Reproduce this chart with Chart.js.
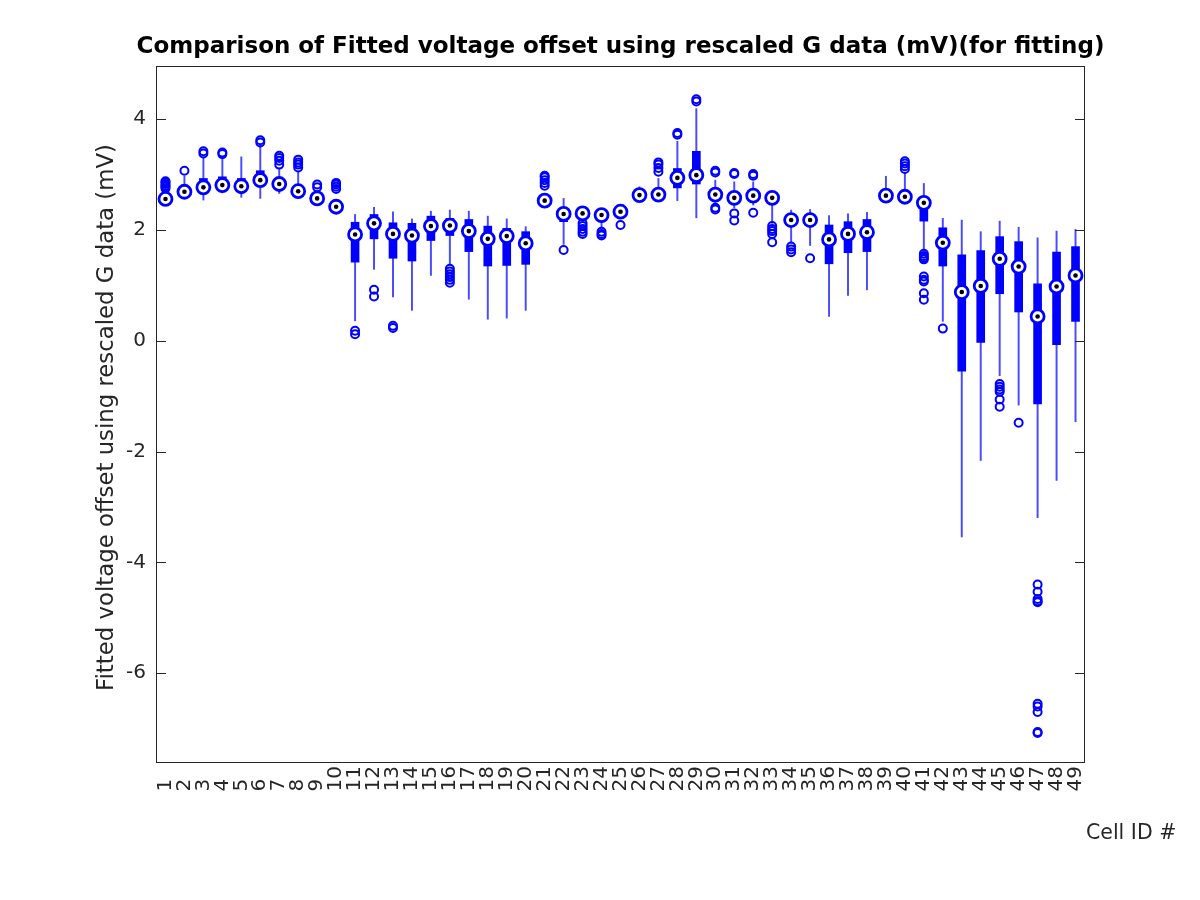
<!DOCTYPE html>
<html>
<head>
<meta charset="utf-8">
<script src="https://cdn.jsdelivr.net/npm/chart.js@4.4.1/dist/chart.umd.min.js"></script>
<style>
  html, body { margin: 0; padding: 0; background: #fff; }
  #wrap { width: 1200px; height: 900px; }
</style>
</head>
<body>
<div id="wrap"><canvas id="boxChart" width="1200" height="900"></canvas></div>
<script>
// Cell IDs on the x axis
const cells = Array.from({ length: 49 }, (_, i) => i + 1);
const yTicks = [-6, -4, -2, 0, 2, 4];

// Box statistics (mV)
const medians = [2.56, 2.69, 2.77, 2.81, 2.79, 2.90, 2.83, 2.70, 2.57, 2.42,
                 1.92, 2.12, 1.93, 1.90, 2.07, 2.08, 1.98, 1.84, 1.89, 1.76,
                 2.53, 2.29, 2.30, 2.27, 2.33, 2.63, 2.64, 2.94, 2.99, 2.64,
                 2.58, 2.62, 2.58, 2.18, 2.18, 1.83, 1.93, 1.96, 2.62, 2.60,
                 2.49, 1.77, 0.88, 0.99, 1.48, 1.34, 0.44, 0.98, 1.18];
const q1 = [2.53, 2.66, 2.72, 2.76, 2.72, 2.84, 2.78, 2.65, 2.54, 2.40,
            1.42, 1.84, 1.49, 1.44, 1.81, 1.90, 1.61, 1.35, 1.36, 1.38,
            2.50, 2.15, 2.26, 2.22, 2.30, 2.60, 2.61, 2.76, 2.83, 2.58,
            2.53, 2.57, 2.50, 2.13, 2.08, 1.39, 1.59, 1.61, 2.59, 2.57,
            2.16, 1.35, -0.55, -0.03, 0.85, 0.52, -1.14, -0.07, 0.35];
const q3 = [2.60, 2.74, 2.93, 2.96, 2.93, 3.07, 2.93, 2.80, 2.62, 2.47,
            2.14, 2.28, 2.13, 2.12, 2.25, 2.21, 2.19, 2.07, 2.03, 1.97,
            2.57, 2.33, 2.33, 2.30, 2.36, 2.67, 2.70, 3.11, 3.42, 2.70,
            2.63, 2.68, 2.62, 2.23, 2.22, 2.09, 2.15, 2.19, 2.66, 2.68,
            2.57, 2.04, 1.55, 1.63, 1.88, 1.79, 1.03, 1.60, 1.70];
const whiskerLo = [2.50, 2.63, 2.54, 2.67, 2.59, 2.57, 2.66, 2.57, 2.52, 2.38,
                   0.36, 1.29, 0.79, 0.55, 1.18, 1.37, 0.75, 0.39, 0.41, 0.55,
                   2.47, 1.74, 2.20, 2.05, 2.27, 2.57, 2.58, 2.53, 2.22, 2.45,
                   2.40, 2.45, 2.12, 1.76, 1.72, 0.44, 0.82, 0.92, 2.56, 2.54,
                   1.64, 0.35, -3.54, -2.16, -0.63, -1.16, -3.19, -2.52, -1.46];
const whiskerHi = [2.64, 2.97, 3.32, 3.30, 3.32, 3.53, 3.12, 3.05, 2.70, 2.50,
                   2.28, 2.41, 2.33, 2.20, 2.34, 2.36, 2.34, 2.25, 2.20, 2.06,
                   2.62, 2.57, 2.36, 2.33, 2.40, 2.78, 2.93, 3.60, 4.19, 2.90,
                   2.87, 2.87, 2.66, 2.36, 2.37, 2.26, 2.29, 2.32, 2.97, 3.03,
                   2.84, 2.21, 2.18, 1.97, 2.16, 2.05, 1.86, 1.98, 2.01];

// Outliers per cell
const outliers = {
    1: [2.75, 2.78, 2.80, 2.83, 2.86, 2.88],
    2: [3.07],
    3: [3.38, 3.42],
    4: [3.37, 3.40],
    6: [3.58, 3.62],
    7: [3.18, 3.25, 3.30, 3.34],
    8: [3.13, 3.18, 3.22, 3.27],
    9: [2.77, 2.82],
    10: [2.74, 2.78, 2.82, 2.85],
    11: [0.12, 0.18],
    12: [0.80, 0.92],
    13: [0.23, 0.27],
    16: [1.05, 1.10, 1.15, 1.20, 1.25, 1.30],
    21: [2.80, 2.85, 2.90, 2.95, 2.98],
    22: [1.64],
    23: [1.93, 1.97, 2.02, 2.07, 2.12],
    24: [1.90, 1.93, 1.97],
    25: [2.09],
    27: [3.05, 3.12, 3.18, 3.22],
    28: [3.72, 3.75],
    29: [4.32, 4.36],
    30: [2.37, 2.40, 3.04, 3.07],
    31: [2.17, 2.30, 3.01, 3.03],
    32: [2.31, 2.98, 3.01],
    33: [1.78, 1.93, 1.98, 2.02, 2.07],
    34: [1.60, 1.65, 1.70],
    35: [1.49],
    40: [3.10, 3.15, 3.20, 3.24],
    41: [0.74, 0.86, 1.07, 1.10, 1.16, 1.47, 1.50, 1.53, 1.57],
    42: [0.22],
    45: [-0.78, -0.83, -0.88, -0.92, -1.06, -1.19],
    46: [-1.48],
    47: [-4.40, -4.53, -4.66, -4.70, -4.72, -6.55, -6.60, -6.70, -7.06, -7.08]
};

const BLUE = '#0000ff';
const AXIS = '#262626';
const FONT = 'DejaVu Sans';

const outlierPoints = [];
Object.keys(outliers).forEach(function(k) {
    outliers[k].forEach(function(v) { outlierPoints.push({ x: Number(k), y: v }); });
});

// frame, inward ticks and the texts MATLAB puts around the axes
const matlabFrame = {
    id: 'matlabFrame',
    afterDraw(chart) {
        const { ctx, chartArea: a, scales } = chart;
        ctx.save();
        ctx.strokeStyle = AXIS;
        ctx.lineWidth = 1;
        ctx.strokeRect(a.left + 0.5, a.top + 0.5, a.right - a.left - 1, a.bottom - a.top - 1);
        yTicks.forEach(function(t) {
            const py = Math.round(scales.y.getPixelForValue(t)) + 0.5;
            ctx.beginPath();
            ctx.moveTo(a.left, py); ctx.lineTo(a.left + 10, py);
            ctx.moveTo(a.right, py); ctx.lineTo(a.right - 10, py);
            ctx.stroke();
        });
        ctx.fillStyle = '#000';
        ctx.font = 'bold 23px "' + FONT + '"';
        ctx.textAlign = 'center';
        ctx.textBaseline = 'middle';
        ctx.fillText('Comparison of Fitted voltage offset using rescaled G data (mV)(for fitting)', (a.left + a.right) / 2, 47);

        ctx.fillStyle = AXIS;
        ctx.font = '20.5px "' + FONT + '"';
        ctx.textAlign = 'left';
        ctx.fillText('Cell ID #', 1086, 834);

        ctx.font = '22.8px "' + FONT + '"';
        ctx.translate(107, (a.top + a.bottom) / 2 + 3);
        ctx.rotate(-Math.PI / 2);
        ctx.textAlign = 'center';
        ctx.fillText('Fitted voltage offset using rescaled G data (mV)', 0, 0);
        ctx.restore();
    }
};

new Chart(document.getElementById('boxChart').getContext('2d'), {
    type: 'bar',
    data: {
        datasets: [
            {
                type: 'scatter',
                label: 'median dot',
                data: cells.map((c, i) => ({ x: c, y: medians[i] })),
                pointRadius: 2.3,
                pointBackgroundColor: '#000',
                pointBorderWidth: 0,
                order: 0
            },
            {
                type: 'scatter',
                label: 'median',
                data: cells.map((c, i) => ({ x: c, y: medians[i] })),
                pointRadius: 6.5,
                pointBackgroundColor: '#fff',
                pointBorderColor: BLUE,
                pointBorderWidth: 2.8,
                order: 1
            },
            {
                type: 'scatter',
                label: 'outliers',
                data: outlierPoints,
                pointRadius: 4,
                pointBackgroundColor: 'rgba(0,0,0,0)',
                pointBorderColor: BLUE,
                pointBorderWidth: 2,
                order: 2
            },
            {
                label: 'box',
                data: cells.map((c, i) => ({ x: c, y: [q1[i], q3[i]] })),
                backgroundColor: BLUE,
                borderWidth: 0,
                barThickness: 8,
                grouped: false,
                order: 3
            },
            {
                label: 'whisker',
                data: cells.map((c, i) => ({ x: c, y: [whiskerLo[i], whiskerHi[i]] })),
                backgroundColor: '#4a4aff',
                borderWidth: 0,
                barThickness: 1.3,
                grouped: false,
                order: 4
            }
        ]
    },
    options: {
        responsive: false,
        animation: false,
        layout: { padding: { top: 66, right: 115, left: 0, bottom: 0 } },
        plugins: {
            legend: { display: false },
            tooltip: { enabled: false }
        },
        scales: {
            x: {
                type: 'linear',
                min: 0.5,
                max: 49.5,
                offset: false,
                grid: { display: false, drawTicks: false },
                border: { display: false },
                afterBuildTicks: function(axis) {
                    axis.ticks = cells.map(v => ({ value: v }));
                },
                afterFit: function(scale) { scale.height = 137; },
                ticks: {
                    autoSkip: false,
                    minRotation: 90,
                    maxRotation: 90,
                    padding: 3,
                    color: AXIS,
                    font: { family: FONT, size: 20 },
                    // trailing figure space keeps single digits in the lower row
                    callback: function(v) { return v < 10 ? v + '\u2007' : String(v); }
                }
            },
            y: {
                type: 'linear',
                min: -7.62,
                max: 4.96,
                grid: { display: false, drawTicks: false },
                border: { display: false },
                afterBuildTicks: function(axis) {
                    axis.ticks = yTicks.map(v => ({ value: v }));
                },
                afterFit: function(scale) { scale.width = 156; },
                ticks: {
                    padding: 10,
                    color: AXIS,
                    font: { family: FONT, size: 20 }
                }
            }
        }
    },
    plugins: [matlabFrame]
});
</script>
</body>
</html>
